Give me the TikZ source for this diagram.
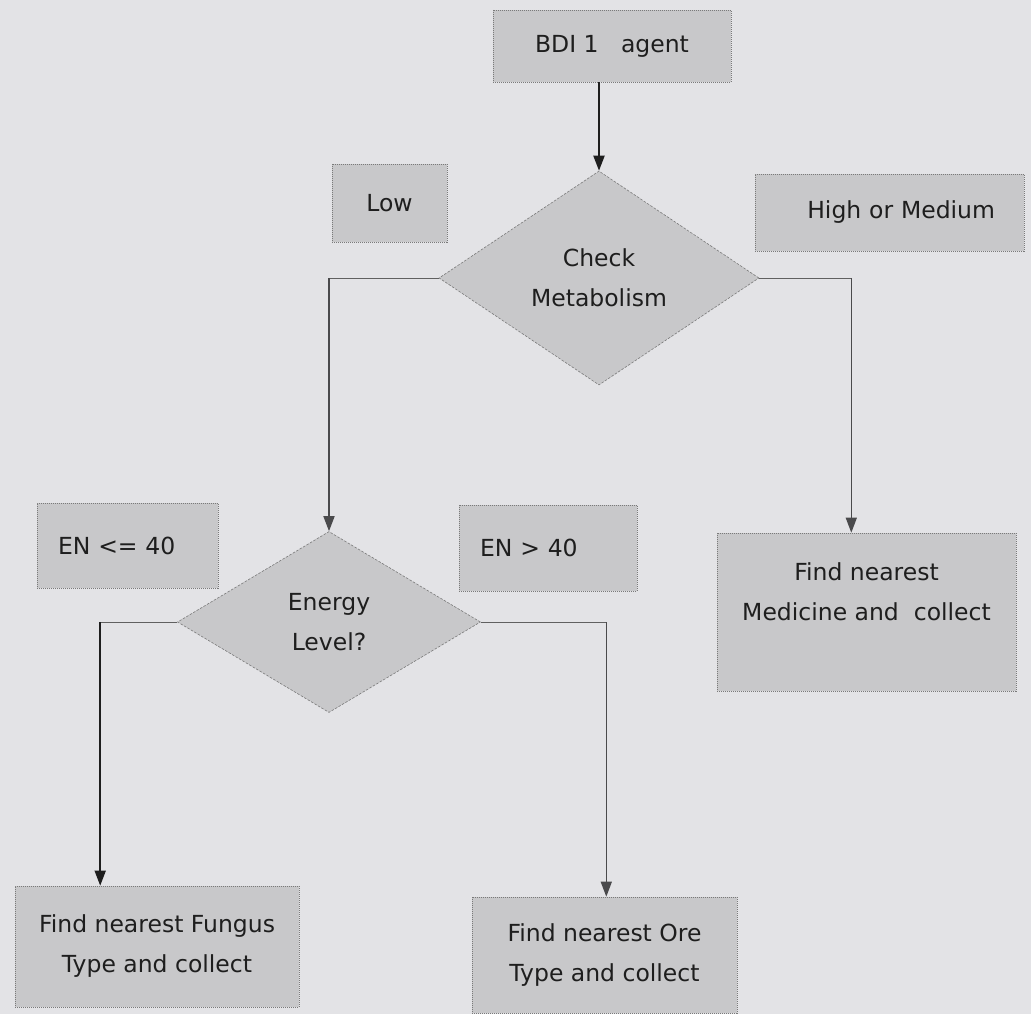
\documentclass[tikz,border=0pt]{standalone}
\usepackage{fontspec}
\setmainfont{DejaVu Sans}
\usetikzlibrary{shapes.geometric,arrows.meta}
\definecolor{bg}{HTML}{E3E3E6}
\definecolor{boxfill}{HTML}{C8C8CA}
\definecolor{boxline}{HTML}{7A7A7A}
\definecolor{ink}{HTML}{1E1E1E}
\definecolor{midink}{HTML}{4A4A4C}
\begin{document}
\begin{tikzpicture}[x=1pt,y=-1pt,
  every node/.style={font=\fontsize{23.5}{40}\selectfont, text=ink},
  flowbox/.style={draw=boxline, dash pattern=on 1pt off 1pt, line width=0.6pt, fill=boxfill, inner sep=0pt, align=center},
  decide/.style={diamond, draw=boxline, dash pattern=on 2.5pt off 1.5pt, line width=0.6pt, fill=boxfill, inner sep=0pt, align=center},
  hline/.style={draw=gray!75!black, line width=0.7pt},
  vline/.style={draw=ink, line width=1.6pt, -{Triangle[length=15pt,width=11pt]}},
  vlinegray/.style={draw=midink, line width=1.3pt, -{Triangle[length=15pt,width=11pt]}},
]
\useasboundingbox (0,0) rectangle (1031,1014);
\fill[bg] (0,0) rectangle (1031,1014);

\node[flowbox, minimum width=238, minimum height=72] (bdi) at (612,46) {BDI 1\ \ \ agent};
\node[decide, minimum width=320, minimum height=214] (cm) at (599,278) {Check\\Metabolism};
\node[flowbox, minimum width=115, minimum height=78] (low) at (389.5,203) {Low};
\node[flowbox, minimum width=269, minimum height=77, text width=211, align=right, inner xsep=29] (high) at (889.5,212.5) {High or Medium};
\node[decide, minimum width=303, minimum height=181] (en) at (329,622) {Energy\\Level?};
\node[flowbox, minimum width=181, minimum height=85, text width=139, align=left, inner xsep=21] (enle) at (127.5,545.5) {EN <= 40};
\node[flowbox, minimum width=178, minimum height=86, text width=136, align=left, inner xsep=21] (engt) at (548,548) {EN > 40};
\node[flowbox, minimum width=299, minimum height=158] (med) at (866.5,612) {Find nearest\\Medicine and\ \ collect\\\mbox{}};
\node[flowbox, minimum width=284, minimum height=121] (fung) at (157,946.5) {Find nearest Fungus\\Type and collect};
\node[flowbox, minimum width=265, minimum height=116] (ore) at (604.5,955) {Find nearest Ore\\Type and collect};

\draw[vline, line width=2pt] (bdi.south -| cm.north) -- (cm.north);

\coordinate (c1) at (cm.west -| en.north);
\draw[hline] (cm.west) -- (c1);
\draw[vlinegray, line width=1.6pt] (c1) -- (en.north);

\coordinate (c2) at ([xshift=92pt]cm.east);
\draw[hline] (cm.east) -- (c2);
\draw[vlinegray] (c2) -- (c2 |- med.north);

\coordinate (c3) at ([xshift=-77pt]en.west);
\draw[hline] (en.west) -- (c3);
\draw[vline] (c3) -- (c3 |- fung.north);

\coordinate (c4) at ([xshift=125.5pt]en.east);
\draw[hline] (en.east) -- (c4);
\draw[vlinegray] (c4) -- (c4 |- ore.north);
\end{tikzpicture}
\end{document}
